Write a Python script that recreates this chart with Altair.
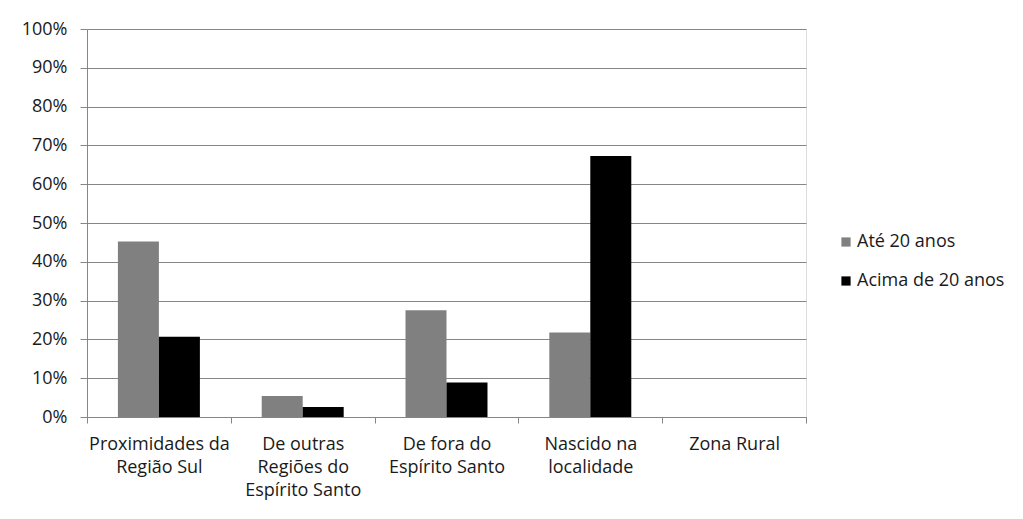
import altair as alt
import pandas as pd

categories = ["Proximidades da Região Sul", "De outras Regiões do Espírito Santo",
              "De fora do Espírito Santo", "Nascido na localidade", "Zona Rural"]
label_lines = [["Proximidades da", "Região Sul"],
               ["De outras", "Regiões do", "Espírito Santo"],
               ["De fora do", "Espírito Santo"],
               ["Nascido na", "localidade"],
               ["Zona Rural"]]
series = ["Até 20 anos", "Acima de 20 anos"]
ate20 = [0.452, 0.054, 0.275, 0.218, 0.0]
acima20 = [0.207, 0.026, 0.089, 0.673, 0.0]
colors = ["#808080", "#000000"]
y_ticks = [i / 10 for i in range(11)]

rows = []
for c, a, b in zip(categories, ate20, acima20):
    rows.append({"cat": c, "serie": series[0], "val": a})
    rows.append({"cat": c, "serie": series[1], "val": b})
df = pd.DataFrame(rows)

expr = "''"
for c, lines in reversed(list(zip(categories, label_lines))):
    arr = "[" + ",".join("'" + l + "'" for l in lines) + "]"
    expr = f"datum.value == '{c}' ? {arr} : ({expr})"

font = "Open Sans"
fs = 18
txt = "#1a1a1a"

chart = alt.Chart(df).mark_bar().encode(
    x=alt.X("cat:N", sort=categories, title=None,
            scale=alt.Scale(paddingInner=0, paddingOuter=0),
            axis=alt.Axis(labelAngle=0, labelExpr=expr, labelLineHeight=23,
                          labelBaseline="top", labelPadding=12, tickBand="extent",
                          grid=False,
                          tickSize=6, tickColor="#868686", domainColor="#868686",
                          labelFont=font, labelFontSize=fs, labelColor=txt,
                          labelLimit=200)),
    xOffset=alt.XOffset("serie:N", sort=series,
                        scale=alt.Scale(paddingInner=0, paddingOuter=0.754)),
    y=alt.Y("val:Q", title=None,
            scale=alt.Scale(domain=[0, 1], nice=False),
            axis=alt.Axis(values=y_ticks, format=".0%", tickSize=7,
                          tickColor="#868686", domainColor="#868686",
                          gridColor="#868686", gridWidth=1, labelPadding=13,
                          labelFont=font, labelFontSize=fs, labelColor=txt)),
    color=alt.Color("serie:N", sort=series, title=None,
                    scale=alt.Scale(domain=series, range=colors),
                    legend=alt.Legend(orient="none", legendX=750, legendY=204,
                                      symbolType="square", symbolSize=85,
                                      symbolStrokeWidth=0, labelFont=font,
                                      labelFontSize=fs, labelColor=txt,
                                      rowPadding=21, labelOffset=2)),
).properties(
    width=719, height=388,
    padding={"left": 79, "top": 21, "right": 200, "bottom": 95},
    autosize=alt.AutoSizeParams(type="none"),
).configure_view(stroke="transparent", strokeWidth=0).configure(background="#ffffff")

chart.save("out.html", embed_options={"renderer": "svg", "actions": False})
